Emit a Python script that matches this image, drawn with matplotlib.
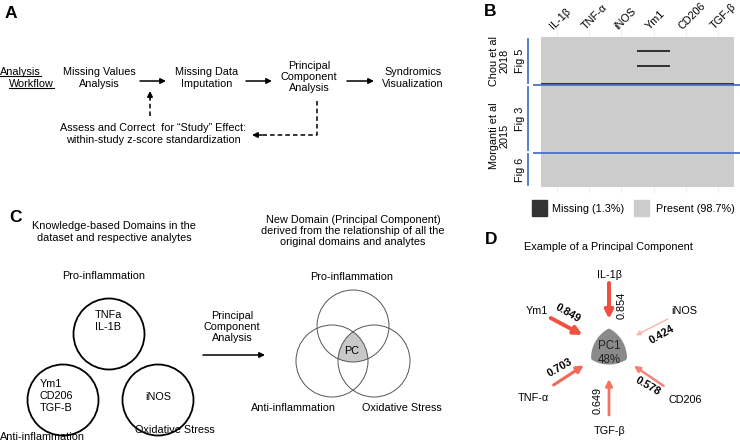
import numpy as np
import matplotlib
matplotlib.use("Agg")
import matplotlib.pyplot as plt
from matplotlib.colors import ListedColormap
from matplotlib.patches import Circle, Polygon, FancyArrowPatch
from matplotlib.transforms import blended_transform_factory, ScaledTranslation

plt.rcParams['font.family'] = ['Liberation Sans', 'DejaVu Sans']

# ---------------- data ----------------
# Panel B: missing-data map
analytes_b = ['IL-1β', 'TNF-α', 'iNOS', 'Ym1', 'CD206', 'TGF-β']
study_rows = [32, 45, 23]                    # rows per figure source (Fig 5, Fig 3, Fig 6)
study_figs = ['Fig 5', 'Fig 3', 'Fig 6']
study_names = ['Chou et al\n2018', 'Morganti et al\n2015']
study_fig_groups = [[0], [1, 2]]
missing_ym1_rows = [9, 19]                   # rows missing only Ym1
missing_full_rows = [31]                     # rows missing all analytes
legend_labels = ['Missing (1.3%)', 'Present (98.7%)']

# Panel D: loadings of PC1
pc_label = 'PC1\n48%'
load_names = ['IL-1β', 'Ym1', 'iNOS', 'TNF-α', 'CD206', 'TGF-β']
load_values = [0.854, 0.849, 0.424, 0.703, 0.578, 0.649]

# ---------------- figure ----------------
W, H = 740, 442
fig = plt.figure(figsize=(W / 100, H / 100), dpi=100)

FS = 7.8
BLUE = '#4a72c8'

# heatmap axes (panel B) in pixel placement
hx0, hx1 = 541, 734
hy0, hy1 = 30, 193          # panel extent
ty0, ty1 = 37, 187          # tile extent
ax_hm = fig.add_axes([hx0 / W, 1 - hy1 / H, (hx1 - hx0) / W, (hy1 - hy0) / H])
nrows = sum(study_rows)
ncols = len(analytes_b)
mat = np.zeros((nrows, ncols))
for r in missing_ym1_rows:
    mat[r, analytes_b.index('Ym1')] = 1
for r in missing_full_rows:
    mat[r, :] = 1
ppr = (ty1 - ty0) / nrows
ylo = -(ty0 - hy0) / ppr
yhi = nrows + (hy1 - ty1) / ppr
for c in range(ncols):
    ax_hm.axvline(c + 0.5, color='#ebebeb', lw=0.6, zorder=0)
ax_hm.imshow(mat, cmap=ListedColormap(['#cccccc', '#333333']), vmin=0, vmax=1,
             extent=(0, ncols, nrows, 0), aspect='auto', interpolation='nearest', zorder=1)
ax_hm.set_xlim(0, ncols)
ax_hm.set_ylim(yhi, ylo)
ax_hm.set_xticks([])
ax_hm.set_yticks([])
for s in ax_hm.spines.values():
    s.set_visible(False)

# overlay axes in pixel coordinates
ax = fig.add_axes([0, 0, 1, 1])
ax.set_xlim(0, W)
ax.set_ylim(H, 0)
ax.set_facecolor('none')
ax.axis('off')


def T(x, y, s, **kw):
    kw.setdefault('fontsize', FS)
    kw.setdefault('ha', 'center')
    kw.setdefault('va', 'center')
    kw.setdefault('linespacing', 1.15)
    return ax.text(x, y, s, **kw)


def arrow(x0, y0, x1, y1, lw=1.1, color='black', ls='-', ms=8, head='-|>'):
    a = FancyArrowPatch((x0, y0), (x1, y1), arrowstyle=head, mutation_scale=ms,
                        lw=lw, color=color, linestyle=ls, shrinkA=0, shrinkB=0)
    ax.add_patch(a)


# panel letters
for lx, ly, lt in [(11, 14, 'A'), (490, 12, 'B'), (16, 218, 'C'), (491, 240, 'D')]:
    T(lx, ly, lt, fontsize=12.5, fontweight='bold')

# ---------------- panel A ----------------
t1 = T(0, 72, 'Analysis', ha='left')
t2 = T(9, 84, 'Workflow', ha='left')
T(99, 78, 'Missing Values\nAnalysis')
arrow(140, 81, 166, 81)
T(207, 78, 'Missing Data\nImputation')
arrow(246, 81, 272, 81)
T(309, 77, 'Principal\nComponent\nAnalysis')
arrow(347, 81, 374, 81)
T(413, 78, 'Syndromics\nVisualization')
ax.plot([317, 317, 262], [101, 135, 135], color='black', lw=1.1, ls=(0, (3, 2)))
arrow(262, 135, 252, 135, ls='-')
ax.plot([150, 150], [116, 98], color='black', lw=1.1, ls=(0, (3, 2)))
arrow(150, 98, 150, 91)
T(153, 134, 'Assess and Correct  for “Study” Effect:\nwithin-study z-score standardization')

# ---------------- panel B labels ----------------
trans_lab = blended_transform_factory(ax_hm.transData, ax.transData) + \
    ScaledTranslation(-2 / 100, 0, fig.dpi_scale_trans)
for i, name in enumerate(analytes_b):
    ax.text(i + 0.5, 31, name, transform=trans_lab, rotation=45, ha='left', va='bottom',
            rotation_mode='anchor', fontsize=FS)

bounds = np.concatenate([[0], np.cumsum(study_rows)])
row_px = lambda r: ty0 + r * ppr
for i, f in enumerate(study_figs):
    a, b = row_px(bounds[i]), row_px(bounds[i + 1])
    ax.plot([528, 528], [a + 1.5, b - 2.5], color=BLUE, lw=1.3)
    T(520, (a + b) / 2, f, rotation=90)
for k, g in enumerate(study_fig_groups):
    a = row_px(bounds[g[0]])
    b = row_px(bounds[g[-1] + 1])
    T(499, (a + b) / 2, study_names[k], rotation=90, linespacing=1.1)
for r in bounds[1:-1]:
    ax.plot([534, 740], [row_px(r), row_px(r)], color=BLUE, lw=1.3)

# legend
ax.add_patch(plt.Rectangle((532, 200), 15, 16, color='#333333'))
T(552, 209, legend_labels[0], ha='left')
ax.add_patch(plt.Rectangle((634, 200), 15, 16, color='#cccccc'))
T(656, 209, legend_labels[1], ha='left')

# ---------------- panel C ----------------
T(114, 232, 'Knowledge-based Domains in the\ndataset and respective analytes')
T(104, 276, 'Pro-inflammation')
for cx, cy in [(109, 334), (63, 400), (158, 400)]:
    ax.add_patch(Circle((cx, cy), 35.5, fill=False, lw=1.3, ec='black'))
T(108, 321, 'TNFa\nIL-1B')
T(40, 396, 'Ym1\nCD206\nTGF-B', ha='left', linespacing=1.2)
T(158, 397, 'iNOS')
T(0, 437, 'Anti-inflammation', ha='left')
T(175, 430, 'Oxidative Stress')
T(232, 327, 'Principal\nComponent\nAnalysis')
arrow(203, 355, 265, 355)

T(353, 231, 'New Domain (Principal Component)\nderived from the relationship of all the\noriginal domains and analytes')
T(352, 277, 'Pro-inflammation')
vc = [(353, 326), (332, 361), (374, 361)]
vr = 36
# triple intersection polygon
pts = []
for i, (cx, cy) in enumerate(vc):
    th = np.linspace(0, 2 * np.pi, 2000)
    px, py = cx + vr * np.cos(th), cy + vr * np.sin(th)
    ok = np.ones_like(px, bool)
    for j, (ox, oy) in enumerate(vc):
        if j != i:
            ok &= (px - ox) ** 2 + (py - oy) ** 2 <= vr ** 2 + 1e-6
    pts.append(np.c_[px[ok], py[ok]])
pts = np.vstack(pts)
cen = pts.mean(axis=0)
order = np.argsort(np.arctan2(pts[:, 1] - cen[1], pts[:, 0] - cen[0]))
ax.add_patch(Polygon(pts[order], closed=True, fc='#c8c8c8', ec='none'))
for cx, cy in vc:
    ax.add_patch(Circle((cx, cy), vr, fill=False, lw=0.7, ec='#555555'))
T(352, 351, 'PC')
T(293, 408, 'Anti-inflammation')
T(402, 408, 'Oxidative Stress')

# ---------------- panel D ----------------
T(608, 247, 'Example of a Principal Component')
pcx, pcy = 609, 349
s = 31
hgt = s * np.sqrt(3) / 2
V = np.array([[pcx, pcy - 2 * hgt / 3], [pcx - s / 2, pcy + hgt / 3], [pcx + s / 2, pcy + hgt / 3]])
poly = []
for i in range(3):
    c = V[i]
    p, q = V[(i + 1) % 3], V[(i + 2) % 3]
    a1 = np.arctan2(p[1] - c[1], p[0] - c[0])
    a2 = np.arctan2(q[1] - c[1], q[0] - c[0])
    if a2 - a1 > np.pi:
        a2 -= 2 * np.pi
    if a1 - a2 > np.pi:
        a2 += 2 * np.pi
    th = np.linspace(a1, a2, 40)
    poly.append(np.c_[c[0] + s * np.cos(th), c[1] + s * np.sin(th)])
ax.add_patch(Polygon(np.vstack(poly), closed=True, fc='#8a8a8a', ec='#8a8a8a', lw=3.5,
                     joinstyle='round'))
T(pcx, pcy + 4, pc_label, color='#222222', linespacing=1.3, fontsize=8.3)

angles = {'IL-1β': 90, 'Ym1': 152, 'iNOS': 27, 'TNF-α': 213, 'CD206': 326, 'TGF-β': 270}
label_r = {'IL-1β': 74, 'Ym1': 82, 'iNOS': 84, 'TNF-α': 90, 'CD206': 92, 'TGF-β': 82}
val_pos = {'IL-1β': (622, 305, 90, 'normal'), 'Ym1': (568, 313, -30, 'bold'),
           'iNOS': (662, 335, 30, 'bold'), 'TNF-α': (560, 368, 30, 'bold'),
           'CD206': (648, 386, -30, 'bold'), 'TGF-β': (598, 400, 90, 'normal')}
c_lo = np.array([0.975, 0.74, 0.70])
c_hi = np.array([0.94, 0.31, 0.25])
for name, v in zip(load_names, load_values):
    a = np.deg2rad(angles[name])
    ux, uy = np.cos(a), -np.sin(a)
    frac = np.clip((v - 0.42) / 0.44, 0, 1)
    col = c_lo + (c_hi - c_lo) * frac ** 0.6
    lw = 1.0 + 1.9 * frac
    arrow(pcx + 66 * ux, pcy + 66 * uy, pcx + 30 * ux, pcy + 30 * uy,
          lw=lw, color=tuple(col), ms=7 + 5 * frac)
    T(pcx + label_r[name] * ux, pcy + label_r[name] * uy, name)
    x, y, rot, wt = val_pos[name]
    T(x, y, f'{v:.3f}', rotation=rot, fontweight=wt)

# underline "Analysis Workflow"
fig.canvas.draw()
r = fig.canvas.get_renderer()
inv = ax.transData.inverted()
for t in (t1, t2):
    bb = t.get_window_extent(r)
    (x0, y0), (x1, y1) = inv.transform([[bb.x0, bb.y0], [bb.x1, bb.y1]])
    ax.plot([x0, x1], [y0 - 0.5, y0 - 0.5], color='black', lw=0.8)

fig.savefig('out.png', dpi=100)
